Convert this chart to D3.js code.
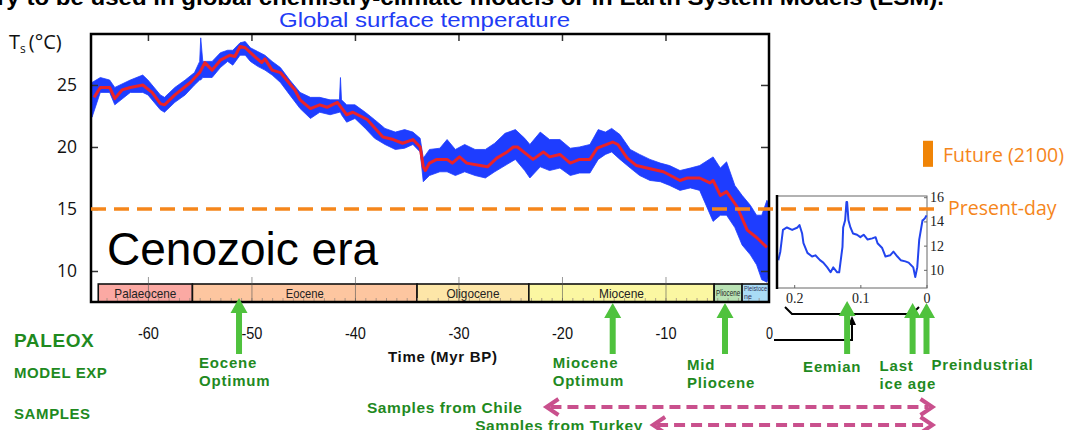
<!DOCTYPE html>
<html>
<head>
<meta charset="utf-8">
<script src="https://cdnjs.cloudflare.com/ajax/libs/d3/7.8.5/d3.min.js"></script>
<style>
  body { margin: 0; background: #fff; }
  svg { display: block; }
</style>
</head>
<body>
<div id="chart"></div>
<script>

// smoothed global surface temperature (red), [Myr BP, deg C]
var redCurve = [
  [-65.2,24.0],[-64.6,24.8],[-63.7,24.8],[-63.2,23.9],[-62.5,24.6],[-61.7,24.8],[-60.5,25.0],[-59.6,24.4],
  [-58.8,23.5],[-58.4,23.4],[-57.4,24.2],[-55.9,25.2],[-55.0,26.0],[-54.5,26.8],[-53.8,26.2],[-53.0,27.0],
  [-52.1,27.4],[-51.6,27.3],[-51.1,28.1],[-50.6,28.0],[-49.7,27.3],[-49.0,26.8],[-48.7,27.1],[-48.0,26.2],
  [-47.2,26.0],[-45.8,24.6],[-45.3,23.8],[-44.3,23.1],[-43.4,23.4],[-42.7,23.2],[-41.7,23.6],[-40.8,22.6],
  [-40.2,22.8],[-38.8,22.2],[-37.3,20.8],[-36.3,20.6],[-35.4,20.3],[-34.4,20.6],[-33.7,20.0],[-33.4,18.4],
  [-33.2,18.1],[-32.8,18.7],[-32.1,19.0],[-31.1,19.0],[-30.6,18.7],[-29.9,19.2],[-29.2,18.7],[-27.9,18.5],
  [-27.2,18.4],[-26.3,19.1],[-25.3,19.6],[-24.7,20.0],[-24.3,20.0],[-23.4,19.4],[-22.8,19.0],[-21.8,19.6],
  [-21.2,19.2],[-20.2,19.4],[-19.2,18.7],[-18.3,19.0],[-17.3,19.0],[-16.6,19.9],[-15.1,20.4],[-14.6,20.2],
  [-13.7,19.1],[-12.8,18.5],[-11.8,18.3],[-10.2,18.0],[-8.6,17.3],[-7.9,17.5],[-6.7,17.5],[-5.7,17.1],
  [-5.4,17.3],[-4.7,16.1],[-4.1,16.4],[-3.1,15.2],[-2.1,13.3],[-1.2,12.7],[-0.2,11.9]
];

// raw record (blue), [Myr BP, upper edge, lower edge]
var blueBand = [
  [-65.4,25.2,22.4],[-64.6,25.6,24.4],[-63.7,25.4,24.4],[-63.2,24.8,23.4],[-61.7,25.4,24.4],[-60.5,25.8,24.4],
  [-60.0,25.4,24.2],[-58.8,24.2,23.0],[-58.4,24.0,22.8],[-57.4,24.8,23.6],[-56.4,25.4,24.2],[-55.5,26.0,25.0],
  [-55.0,26.9,25.4],[-54.9,28.8,25.4],[-54.7,26.9,25.6],[-53.8,26.9,25.6],[-53.0,27.6,26.4],[-52.3,27.8,26.9],
  [-51.8,27.8,26.6],[-51.1,28.4,27.4],[-50.6,28.5,27.4],[-50.1,28.0,26.9],[-49.4,27.7,26.5],[-48.7,27.4,26.2],
  [-48.0,26.9,25.8],[-47.2,26.4,25.2],[-46.3,25.4,24.2],[-45.3,24.4,23.1],[-44.3,24.0,22.3],[-43.4,24.0,22.8],
  [-42.4,23.8,22.6],[-41.5,23.8,22.8],[-41.4,25.6,22.8],[-41.3,23.8,22.6],[-40.8,23.4,22.0],[-40.0,23.4,22.3],
  [-39.0,22.8,21.5],[-38.1,22.2,20.7],[-37.1,21.5,20.2],[-36.1,21.2,19.8],[-35.2,21.4,19.9],[-34.4,21.2,20.2],
  [-33.7,20.7,19.6],[-33.4,19.1,17.2],[-32.8,19.8,17.7],[-31.8,19.9,18.0],[-31.1,20.6,18.0],[-30.3,19.8,17.7],
  [-29.4,20.2,18.0],[-28.4,19.8,17.7],[-27.4,19.8,17.5],[-26.5,20.3,18.0],[-25.5,21.1,18.5],[-24.5,21.4,19.0],
  [-23.6,20.7,18.1],[-23.1,20.2,17.5],[-22.1,21.2,18.4],[-21.2,20.6,18.1],[-20.2,20.6,18.3],[-19.2,19.9,17.7],
  [-18.3,20.0,17.9],[-17.3,20.2,17.9],[-16.5,21.4,19.0],[-15.8,21.2,19.4],[-15.2,21.5,19.6],[-14.4,21.0,19.0],
  [-13.4,19.8,18.3],[-12.5,19.4,17.7],[-11.5,19.0,17.3],[-10.5,18.7,17.2],[-9.6,18.5,16.9],[-8.6,18.1,16.5],
  [-7.6,18.3,16.7],[-6.7,18.5,16.5],[-5.4,19.2,14.0],[-4.7,18.3,14.5],[-4.1,18.8,14.5],[-3.3,16.9,13.5],
  [-2.6,16.1,12.1],[-1.8,15.3,11.3],[-1.2,14.5,10.5],[-0.7,14.5,9.3],[-0.2,15.7,9.1],[0,15.3,9.7]
];

// last glacial cycles inset, [kyr BP, deg C]
var insetCurve = [
  [224,10.8],[221,11.5],[217,13.3],[211,13.5],[203,13.3],[195,13.5],[192,13.7],[188,13.0],[186,12.2],
  [180,11.4],[173,11.1],[168,11.2],[161,10.8],[156,10.6],[150,10.2],[145,9.8],[141,10.2],[135,9.8],
  [132,9.8],[127,11.9],[126,13.5],[123,14.1],[121,15.6],[120,15.6],[118,14.1],[115,13.5],[111,13.0],
  [105,12.9],[100,12.7],[95,12.9],[89,12.5],[82,12.6],[77,12.7],[74,12.2],[67,11.8],[62,11.1],[55,11.2],
  [50,11.5],[44,11.1],[39,10.8],[32,10.7],[27,10.6],[20,10.2],[17,9.4],[14,10.2],[11,12.5],[6,14.1],
  [5,14.1],[2,14.3],[0,14.5]
];

var epochNames = ["Palaeocene", "Eocene", "Oligocene", "Miocene", "Pliocene", "Pleistocene"];
var epochStart = [-64.8, -55.7, -34.0, -23.2, -5.3, -2.6];
var epochEnd = [-55.7, -34.0, -23.2, -5.3, -2.6, 0];
var epochColors = ["#fba9a3", "#fdc6a0", "#fde6a8", "#fbf7a2", "#b9e2b4", "#a9dcf6"];

var xTicks = [-60, -50, -40, -30, -20, -10, 0];
var yTicks = [10, 15, 20, 25];
var insetXTicks = [200, 100, 0];
var insetYTicks = [10, 12, 14, 16];

var presentDay = 15;
var future2100 = [18.4, 20.5];

var mainEventNames = [["Eocene", "Optimum"], ["Miocene", "Optimum"], ["Mid", "Pliocene"]];
var mainEventTimes = [-51.2, -15.1, -4.25];
var insetEventNames = [["Eemian"], ["Last", "ice age"], ["Preindustrial"]];
var insetEventTimes = [120, 21, 0];

var sampleNames = ["Samples from Chile", "Samples from Turkey"];
var sampleStart = [-21.5, -11.2];

var rowLabels = ["PALEOX", "MODEL EXP", "SAMPLES"];


TempChart = function(_parentElement) {
  this.parentElement = _parentElement;
  this.initVis();
};

TempChart.prototype.initVis = function() {
  var vis = this;

  vis.width = 1077;
  vis.height = 430;

  vis.svg = d3.select(vis.parentElement).append("svg")
    .attr("width", vis.width)
    .attr("height", vis.height)
    .style("font-family", "'Liberation Sans', Arial, sans-serif");

  vis.box = {left: 91, right: 769, top: 34, bottom: 302, bar: 284};
  vis.ibox = {left: 777, right: 927, top: 196, bottom: 288};

  vis.x = d3.scaleLinear().domain([-65.5, 0]).range([vis.box.left, vis.box.right]);
  vis.y = d3.scaleLinear().domain([7.5, 29.11]).range([vis.box.bottom, vis.box.top]);

  vis.xi = d3.scaleLinear().domain([226, 0]).range([vis.ibox.left, 926.5]);
  vis.yi = d3.scaleLinear().domain([8.5, 16.1]).range([vis.ibox.bottom, vis.ibox.top]);

  vis.green = "#1f8a1f";
  vis.arrowGreen = "#4fc23d";
  vis.orange = "#f5861b";

  vis.drawTitles();
  vis.drawMain();
  vis.drawEpochs();
  vis.drawInset();
  vis.drawAnnotations();
};

TempChart.prototype.drawTitles = function() {
  var vis = this;

  // slide title, cut by the top of the picture
  vis.svg.append("text")
    .attr("x", -3).attr("y", 5)
    .attr("textLength", 947).attr("lengthAdjust", "spacingAndGlyphs")
    .style("font-size", "22px").style("font-weight", "bold")
    .text("ry to be used in global chemistry-climate models or in Earth System Models (ESM).");

  vis.svg.append("text")
    .attr("x", 279).attr("y", 27)
    .attr("textLength", 291).attr("lengthAdjust", "spacingAndGlyphs")
    .style("font-size", "19.5px").attr("fill", "#1f3cf5")
    .text("Global surface temperature");

  var ts = vis.svg.append("text")
    .attr("x", 9).attr("y", 49)
    .style("font-family", "'Open Sans', sans-serif")
    .style("font-size", "20px").attr("fill", "#111");
  ts.append("tspan").text("T");
  ts.append("tspan").attr("dy", 4).style("font-size", "12px").text("s");
  ts.append("tspan").attr("dy", -4).attr("dx", 3).text("(°C)");
};

TempChart.prototype.drawMain = function() {
  var vis = this;
  var b = vis.box;

  vis.svg.append("clipPath").attr("id", "mainclip")
    .append("rect")
    .attr("x", b.left).attr("y", b.top)
    .attr("width", b.right - b.left).attr("height", b.bar - b.top);

  var plot = vis.svg.append("g").attr("clip-path", "url(#mainclip)");

  // blue raw record
  var band = d3.area()
    .x(function(d) { return vis.x(d[0]); })
    .y0(function(d) { return vis.y(d[2]); })
    .y1(function(d) { return vis.y(d[1]); });

  plot.append("path")
    .datum(blueBand)
    .attr("d", band)
    .attr("fill", "#1e3dff")
    .attr("stroke", "#1e3dff")
    .attr("stroke-width", 0.8)
    .attr("stroke-linejoin", "round");

  // red smoothed curve
  var line = d3.line()
    .x(function(d) { return vis.x(d[0]); })
    .y(function(d) { return vis.y(d[1]); });

  plot.append("path")
    .datum(redCurve)
    .attr("d", line)
    .attr("fill", "none")
    .attr("stroke", "#ea2328")
    .attr("stroke-width", 3)
    .attr("stroke-linejoin", "round");

  vis.svg.append("text")
    .attr("x", 107).attr("y", 265)
    .style("font-size", "46px").attr("fill", "#000")
    .text("Cenozoic era");

  // axes
  var gx = vis.svg.append("g")
    .attr("transform", "translate(0," + 327 + ")")
    .call(d3.axisBottom(vis.x).tickValues(xTicks).tickSize(0).tickPadding(0)
      .tickFormat(function(d) { return String(d); }));
  gx.select(".domain").remove();
  gx.selectAll("text")
    .attr("textLength", function(d) { return String(d).length * 7; })
    .attr("lengthAdjust", "spacingAndGlyphs")
    .style("font-size", "17px").attr("fill", "#111");

  var gTop = vis.svg.append("g")
    .attr("transform", "translate(0," + b.top + ")")
    .call(d3.axisTop(vis.x).tickValues(xTicks.slice(0, 6)).tickSize(-7).tickFormat(""));
  gTop.select(".domain").remove();
  gTop.selectAll("line").attr("stroke", "#333").attr("stroke-width", 1.5);

  var gy = vis.svg.append("g")
    .attr("transform", "translate(" + b.left + ",0)")
    .call(d3.axisLeft(vis.y).tickValues(yTicks).tickSize(-7).tickPadding(14));
  gy.select(".domain").remove();
  gy.selectAll("line").attr("stroke", "#333").attr("stroke-width", 1.5);
  gy.selectAll("text")
    .style("font-family", "'Open Sans', sans-serif")
    .style("font-size", "17.5px").attr("fill", "#111");

  var gyr = vis.svg.append("g")
    .attr("transform", "translate(" + b.right + ",0)")
    .call(d3.axisRight(vis.y).tickValues(yTicks).tickSize(-8).tickFormat(""));
  gyr.select(".domain").remove();
  gyr.selectAll("line").attr("stroke", "#333").attr("stroke-width", 1.5);
};

TempChart.prototype.drawEpochs = function() {
  var vis = this;
  var b = vis.box;

  var eg = vis.svg.append("g");

  eg.selectAll("rect.epoch")
    .data(epochNames)
    .enter().append("rect")
    .attr("class", "epoch")
    .attr("x", function(d, i) { return vis.x(epochStart[i]); })
    .attr("y", b.bar)
    .attr("width", function(d, i) { return vis.x(epochEnd[i]) - vis.x(epochStart[i]); })
    .attr("height", b.bottom - b.bar)
    .attr("fill", function(d, i) { return epochColors[i]; })
    .attr("stroke", "#111")
    .attr("stroke-width", 1.6);

  // minor ticks inside the bar
  var gm = eg.append("g")
    .attr("transform", "translate(0," + b.bottom + ")")
    .call(d3.axisBottom(vis.x).tickValues(d3.range(-64, 0, 1)).tickSize(-4).tickFormat(""));
  gm.select(".domain").remove();
  gm.selectAll("line").attr("stroke", "#9a8a80").attr("stroke-width", 0.8);

  // major ticks through the bar
  var gM = eg.append("g")
    .attr("transform", "translate(0," + b.bottom + ")")
    .call(d3.axisBottom(vis.x).tickValues(xTicks.slice(0, 6)).tickSize(-25).tickFormat(""));
  gM.select(".domain").remove();
  gM.selectAll("line").attr("stroke", "#555").attr("stroke-width", 1).attr("opacity", 0.6);

  // squeezed like the condensed type of the slide
  var sizes = [13, 13, 13, 13, 8.5];
  var widths = [62, 38, 53, 45, 24];

  eg.selectAll("text.epoch")
    .data(epochNames.slice(0, 5))
    .enter().append("text")
    .attr("class", "epoch")
    .attr("x", function(d, i) { return (vis.x(epochStart[i]) + vis.x(epochEnd[i])) / 2; })
    .attr("y", function(d, i) { return i < 4 ? 298 : 296; })
    .attr("text-anchor", "middle")
    .attr("textLength", function(d, i) { return widths[i]; })
    .attr("lengthAdjust", "spacingAndGlyphs")
    .style("font-size", function(d, i) { return sizes[i] + "px"; })
    .attr("fill", "#222")
    .text(function(d) { return d; });

  var pl = eg.append("text")
    .attr("x", vis.x(epochStart[5]) + 2).attr("y", 291)
    .style("font-size", "7px").attr("fill", "#335");
  pl.append("tspan").attr("textLength", 23).attr("lengthAdjust", "spacingAndGlyphs")
    .text(epochNames[5].slice(0, 9));
  pl.append("tspan").attr("x", vis.x(epochStart[5]) + 2).attr("dy", 8).text(epochNames[5].slice(9));

  // frame of the main panel
  vis.svg.append("rect")
    .attr("x", b.left).attr("y", b.top)
    .attr("width", b.right - b.left).attr("height", b.bottom - b.top)
    .attr("fill", "none").attr("stroke", "#000").attr("stroke-width", 2.5);
};

TempChart.prototype.drawInset = function() {
  var vis = this;
  var ib = vis.ibox;

  var ig = vis.svg.append("g");

  ig.append("rect")
    .attr("x", ib.left).attr("y", ib.top)
    .attr("width", ib.right - ib.left).attr("height", ib.bottom - ib.top)
    .attr("fill", "#fff").attr("stroke", "#666").attr("stroke-width", 1);

  var line = d3.line()
    .x(function(d) { return vis.xi(d[0]); })
    .y(function(d) { return vis.yi(d[1]); });

  ig.append("path")
    .datum(insetCurve)
    .attr("d", line)
    .attr("fill", "none")
    .attr("stroke", "#2244ee")
    .attr("stroke-width", 2)
    .attr("stroke-linejoin", "round");

  ig.append("line")
    .attr("x1", ib.left).attr("x2", ib.left)
    .attr("y1", ib.top - 1).attr("y2", ib.bottom + 1)
    .attr("stroke", "#000").attr("stroke-width", 2.5);

  var serif = "'Liberation Serif', 'Times New Roman', serif";

  var gr = ig.append("g")
    .attr("transform", "translate(" + ib.right + ",0)")
    .call(d3.axisRight(vis.yi).tickValues(insetYTicks).tickSize(-3).tickPadding(3));
  gr.select(".domain").remove();
  gr.selectAll("line").attr("stroke", "#666");
  gr.selectAll("text").style("font-family", serif).style("font-size", "14px").attr("fill", "#222");

  var gb = ig.append("g")
    .attr("transform", "translate(0," + ib.bottom + ")")
    .call(d3.axisBottom(vis.xi).tickValues(insetXTicks).tickSize(-3).tickPadding(5)
      .tickFormat(function(d) { return d === 0 ? "0" : d3.format(".1f")(d / 1000); }));
  gb.select(".domain").remove();
  gb.selectAll("line").attr("stroke", "#666");
  gb.selectAll("text").style("font-family", serif).style("font-size", "14px").attr("fill", "#222");

  // present-day level across both panels
  vis.svg.append("line")
    .attr("x1", vis.box.left).attr("x2", 939)
    .attr("y1", vis.y(presentDay)).attr("y2", vis.y(presentDay))
    .attr("stroke", vis.orange).attr("stroke-width", 3.5)
    .attr("stroke-dasharray", "15,8");

  vis.svg.append("text")
    .attr("x", 948).attr("y", vis.y(presentDay) + 6)
    .style("font-family", "'Open Sans', sans-serif").style("font-size", "19.5px")
    .attr("fill", vis.orange).text("Present-day");

  vis.svg.append("rect")
    .attr("x", 923).attr("width", 10)
    .attr("y", vis.y(future2100[1]))
    .attr("height", vis.y(future2100[0]) - vis.y(future2100[1]))
    .attr("fill", "#f08406");

  vis.svg.append("text")
    .attr("x", 943).attr("y", 162)
    .style("font-family", "'Open Sans', sans-serif").style("font-size", "19.5px")
    .attr("fill", vis.orange).text("Future (2100)");

  // bracket under the inset and link from 0 on the main axis
  var bl = ib.left + 8, br = ib.right - 8, mid = (bl + br) / 2;
  vis.svg.append("path")
    .attr("d", "M" + bl + ",307 L" + (bl + 7) + ",314 L" + (br - 7) + ",314 L" + br + ",307")
    .attr("fill", "none").attr("stroke", "#000").attr("stroke-width", 2);

  vis.svg.append("path")
    .attr("d", "M" + (vis.x(0) + 5) + ",340 L" + mid + ",340 L" + mid + ",322")
    .attr("fill", "none").attr("stroke", "#000").attr("stroke-width", 2);
  vis.svg.append("path")
    .attr("d", "M" + (mid - 4) + ",325 L" + mid + ",316 L" + (mid + 4) + ",325 Z")
    .attr("fill", "#000");
};

TempChart.prototype.drawAnnotations = function() {
  var vis = this;

  function arrowPath(x, top, bottom) {
    return "M" + x + "," + top +
      " L" + (x + 8.5) + "," + (top + 15) +
      " L" + (x + 3) + "," + (top + 15) +
      " L" + (x + 3) + "," + bottom +
      " L" + (x - 3) + "," + bottom +
      " L" + (x - 3) + "," + (top + 15) +
      " L" + (x - 8.5) + "," + (top + 15) + " Z";
  }

  var events = [];
  mainEventNames.forEach(function(d, i) {
    events.push({name: d, x: vis.x(mainEventTimes[i])});
  });
  insetEventNames.forEach(function(d, i) {
    events.push({name: d, x: vis.xi(insetEventTimes[i])});
  });

  // label offsets and baselines, as set out in the slide
  var labelDx = [-40, -60, -38, -44, -33, 5];
  var labelY = [368, 368, 370, 372, 371, 370];
  var arrowTop = [298, 303, 303, 301, 303, 303];

  var eg = vis.svg.append("g");

  eg.selectAll("path.arrow")
    .data(events)
    .enter().append("path")
    .attr("class", "arrow")
    .attr("d", function(d, i) { return arrowPath(d.x, arrowTop[i], 354); })
    .attr("fill", vis.arrowGreen);

  var labels = eg.selectAll("text.event")
    .data(events)
    .enter().append("text")
    .attr("class", "event")
    .attr("x", function(d, i) { return d.x + labelDx[i]; })
    .attr("y", function(d, i) { return labelY[i]; })
    .style("font-size", "15px").style("font-weight", "bold")
    .style("letter-spacing", "0.8px")
    .attr("fill", vis.green);

  labels.each(function(d, i) {
    var t = d3.select(this);
    d.name.forEach(function(s, j) {
      t.append("tspan")
        .attr("x", d.x + labelDx[i])
        .attr("dy", j === 0 ? 0 : 17.5)
        .text(s);
    });
  });

  vis.svg.append("text")
    .attr("x", 388).attr("y", 362)
    .style("font-size", "15px").style("font-weight", "bold").style("letter-spacing", "0.7px")
    .attr("fill", "#111").text("Time (Myr BP)");

  // row headings
  var rowY = [347, 378, 419];
  var rowSize = [19, 15, 15];
  vis.svg.selectAll("text.row")
    .data(rowLabels)
    .enter().append("text")
    .attr("class", "row")
    .attr("x", 14)
    .attr("y", function(d, i) { return rowY[i]; })
    .style("font-size", function(d, i) { return rowSize[i] + "px"; })
    .style("font-weight", "bold").style("letter-spacing", "0.6px")
    .attr("fill", vis.green)
    .text(function(d) { return d; });

  // sample ranges, dashed double arrows
  var sy = [407, 425];
  var gap = [24, 10];
  var right = vis.xi(0) + 6;
  var pink = "#c9508d";
  var sg = vis.svg.append("g");

  sampleNames.forEach(function(name, i) {
    var left = vis.x(sampleStart[i]);
    sg.append("line")
      .attr("x1", left + 4).attr("x2", right - 4)
      .attr("y1", sy[i]).attr("y2", sy[i])
      .attr("stroke", pink).attr("stroke-width", 4)
      .attr("stroke-dasharray", "11,6");
    sg.append("path")
      .attr("d", "M" + (left + 12) + "," + (sy[i] - 8) + " L" + left + "," + sy[i] + " L" + (left + 12) + "," + (sy[i] + 8))
      .attr("fill", "none").attr("stroke", pink).attr("stroke-width", 4);
    sg.append("path")
      .attr("d", "M" + (right - 12) + "," + (sy[i] - 8) + " L" + right + "," + sy[i] + " L" + (right - 12) + "," + (sy[i] + 8))
      .attr("fill", "none").attr("stroke", pink).attr("stroke-width", 4);
    sg.append("text")
      .attr("x", left - gap[i]).attr("y", sy[i] + 6)
      .attr("text-anchor", "end")
      .style("font-size", "15.5px").style("font-weight", "bold").style("letter-spacing", "0.6px")
      .attr("fill", vis.green)
      .text(name);
  });
};

var chart = new TempChart("#chart");

</script>
</body>
</html>
